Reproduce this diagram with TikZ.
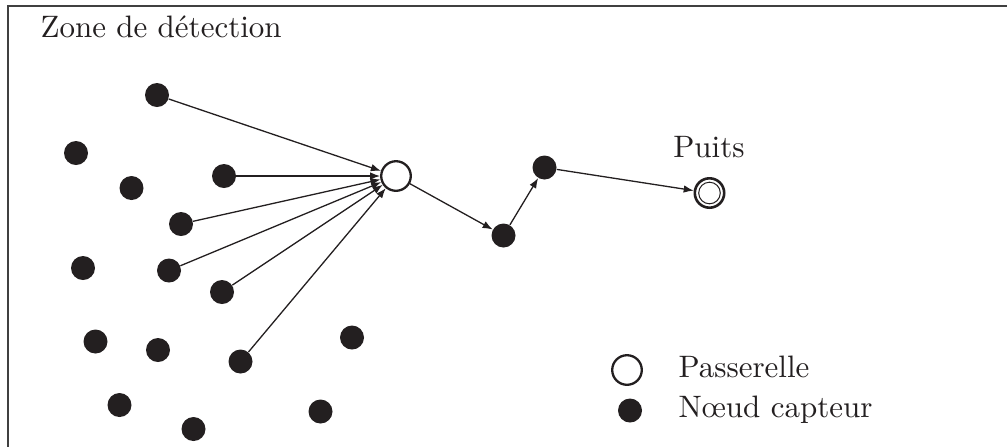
\documentclass[tikz,border=0pt]{standalone}
\usetikzlibrary{arrows.meta}
\definecolor{dotc}{RGB}{35,31,32}
\begin{document}
\begin{tikzpicture}[x=0.5pt,y=-0.5pt,
  font=\fontsize{10}{12}\selectfont,
  sensor/.style={circle, fill=dotc, minimum size=12pt, inner sep=0pt},
  gateway/.style={circle, draw=dotc, line width=1.15pt, minimum size=14.8pt, inner sep=0pt, fill=white},
  sinkout/.style={circle, draw=dotc, line width=1.3pt, minimum size=14.7pt, inner sep=0pt},
  sinkin/.style={circle, draw=dotc, line width=0.5pt, minimum size=10.8pt, inner sep=0pt},
  link/.style={draw=dotc, line width=0.65pt, -{Latex[length=5pt,width=3.8pt]}},
  frame/.style={draw=black!75, line width=0.8pt},
  lbl/.style={inner sep=0pt, scale=1.55, text=dotc}]
\useasboundingbox (0,0) rectangle (1007,446);
% frame (top and left edges visible)
\coordinate (fbl) at (8,447);
\coordinate (ftl) at (8,6);
\coordinate (ftr) at (1008,6);
\draw[frame] (fbl) -- (ftl) -- (ftr);
\node[lbl, anchor=base west] (zone) at (40,37) {Zone de d\'etection};
% sensors
\node[sensor] (s1) at (157,95) {};
\node[sensor] (s2) at (76,153) {};
\node[sensor] (s3) at (131.5,188) {};
\node[sensor] (s4) at (224,176) {};
\node[sensor] (s5) at (181,224) {};
\node[sensor] (s6) at (83,268) {};
\node[sensor] (s7) at (169,270.5) {};
\node[sensor] (s8) at (222,292) {};
\node[sensor] (s9) at (95.5,341.5) {};
\node[sensor] (s10) at (158,350) {};
\node[sensor] (s11) at (240.5,361.5) {};
\node[sensor] (s12) at (352,337.5) {};
\node[sensor] (s13) at (119.5,405) {};
\node[sensor] (s14) at (193.5,429) {};
\node[sensor] (s15) at (320.5,411.5) {};
\node[sensor] (r1) at (503.5,235.5) {};
\node[sensor] (r2) at (544.5,167.5) {};
% gateway
\node[gateway] (gw) at (396,176) {};
% sink
\node[sinkout] (sink) at (709.5,193) {};
\node[sinkin] (sinkc) at (709.5,193) {};
\node[lbl, anchor=base] (puits) at (709,157) {Puits};
% links
\foreach \s in {s1,s4,s5,s7,s8,s11}
  \draw[link] (\s) -- (gw);
\draw[link] (gw) -- (r1);
\draw[link] (r1) -- (r2);
\draw[link] (r2) -- (sink);
% legend
\node[gateway] (lgw) at (627,370) {};
\node[lbl, anchor=base west] (lgwt) at (678,377) {Passerelle};
\node[sensor] (lsn) at (630,410.5) {};
\node[lbl, anchor=base west] (lsnt) at (678,417.5) {N\oe ud capteur};
\end{tikzpicture}
\end{document}
